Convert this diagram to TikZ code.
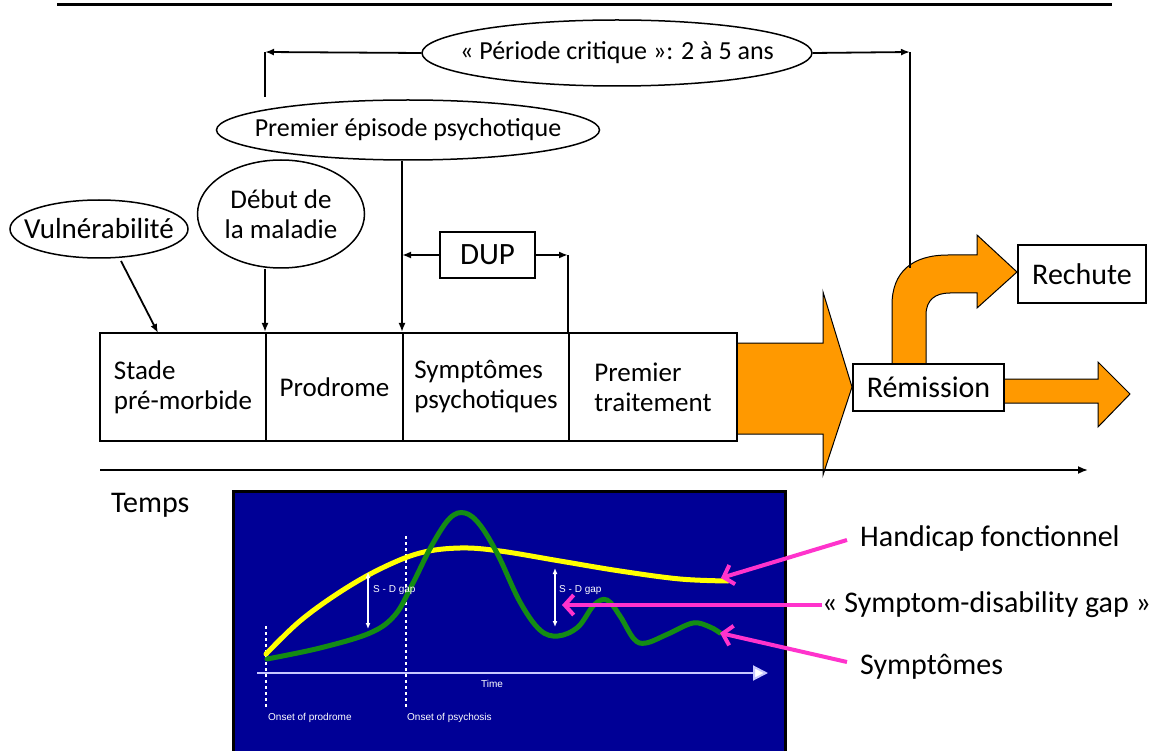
\documentclass[tikz,border=0pt]{standalone}
\usepackage{fontspec}
\setmainfont{Carlito}
\newfontfamily\arialf{Liberation Sans}
\usetikzlibrary{shapes.geometric,arrows.meta}
\definecolor{orangeC}{RGB}{255,153,0}
\definecolor{panelC}{RGB}{0,0,150}
\definecolor{pinkC}{RGB}{255,51,204}
\definecolor{greenC}{RGB}{20,140,20}
\definecolor{yellowC}{RGB}{255,255,0}
\definecolor{axisC}{RGB}{200,200,255}
\newcommand\fsA{\fontsize{26}{30}\selectfont}
\newcommand\fsB{\fontsize{27}{30}\selectfont}
\newcommand\fsC{\fontsize{30}{34}\selectfont}
\begin{document}
\begin{tikzpicture}[x=1pt,y=-1pt,
  ell/.style={draw, ellipse, line width=1.5pt, inner sep=0pt},
  etext/.style={font=\fsA, align=center, inner sep=0pt},
  box/.style={draw, line width=2pt, fill=white, inner sep=0pt, font=\fsB, align=left},
  conn/.style={line width=1.8pt, -{Latex[length=9pt,width=7pt]}},
  plain/.style={line width=1.8pt},
  oarrow/.style={fill=orangeC, draw=black, line width=1pt},
  parrow/.style={draw=pinkC, line width=4pt, -{Straight Barb[length=9pt,width=20pt]}},
  lbl/.style={font=\fsC, anchor=west, inner sep=0pt},
  small/.style={font=\arialf\fontsize{10}{12}\selectfont, text=white, inner sep=0pt},
  sd/.style={draw=white, line width=1.2pt, {Latex[length=6pt,width=5pt]}-{Latex[length=6pt,width=5pt]}}
]
\useasboundingbox (0,0) rectangle (1154,751);
% top rule
\coordinate (r0) at (57,5); \coordinate (r1) at (1112,5);
\draw[line width=3pt] (r0) -- (r1);

% orange arrows
\draw[oarrow] (737,343) -- (823,343) -- (823,292) -- (852,387) -- (823,475) -- (823,434) -- (737,434) -- cycle;
\draw[oarrow] (1004,379) -- (1098,379) -- (1098,362) -- (1130,394) -- (1098,427) -- (1098,403) -- (1004,403) -- cycle;
\draw[oarrow] (892,365) -- (892,305) .. controls (892,272) and (912,255) .. (948,255) -- (977,255) -- (977,235) -- (1017,272) -- (977,308) -- (977,293) -- (950,293) .. controls (935,293) and (926,300) .. (926,315) -- (926,365) -- cycle;

% boxes row
\node[box, minimum width=166pt, minimum height=108pt] (b1) at (183,387) {Stade\\pré-morbide};
\node[box, minimum width=137pt, minimum height=108pt] (b2) at (334.5,387) {Prodrome};
\node[box, minimum width=166pt, minimum height=108pt] (b3) at (486,387) {Symptômes\\psychotiques};
\node[box, minimum width=168pt, minimum height=108pt] (b4) at (653,387) {Premier\\traitement};

\node[box, font=\fsC, minimum width=151pt, minimum height=47pt, align=center] (rem) at (928.5,387) {Rémission};
\node[box, font=\fsC, minimum width=128pt, minimum height=58pt, align=center] (rech) at (1082,274) {Rechute};

% ellipses
\node[ell, minimum width=390pt, minimum height=66pt] (pc) at (617,53) {};
\node[etext] (pct) at (pc) {« Période critique »: 2 à 5 ans};
\node[ell, minimum width=383pt, minimum height=60pt] (pep) at (408,130) {};
\node[etext] (pept) at (pep) {Premier épisode psychotique};
\node[ell, minimum width=178pt, minimum height=58pt] (vul) at (99,229) {};
\node[etext, font=\fontsize{29}{32}\selectfont] (vult) at (vul) {Vulnérabilité};
\node[ell, minimum width=167pt, minimum height=108pt] (deb) at (281,214) {};
\node[etext, font=\fsB] (debt) at (deb) {Début de\\la maladie};
\node[box, font=\fontsize{31}{34}\selectfont, minimum width=95pt, minimum height=46pt, align=center] (dup) at (487.5,255) {DUP};

% connectors
\coordinate (cl) at (265,52); \coordinate (clb) at (265,97);
\coordinate (cr) at (910,52); \coordinate (crb) at (910,268);
\draw[conn] (pc.west) -- (cl);
\draw[plain] (cl) -- (clb);
\draw[conn] (pc.east) -- (cr);
\draw[plain] (cr) -- (crb);

\coordinate (v1) at (158,333);
\coordinate (v0) at (121,261);
\draw[conn] (v0) -- (v1);
\draw[conn] (b2.north west |- deb.south) -- (b2.north west);
\draw[conn] (b3.north west |- pep.south) -- (b3.north west);
\draw[conn] (dup.west) -- (dup.west -| b3.north west);
\draw[conn] (dup.east) -- (dup.east -| b4.north west);
\draw[plain] (dup.east -| b4.north west) -- (b4.north west);

% time axis
\coordinate (t0) at (100,470); \coordinate (t1) at (1088,470);
\draw[line width=1.8pt, -{Latex[length=10pt,width=8pt]}] (t0) -- (t1);
\node[lbl] (temps) at (111,505) {Temps};

% panel
\fill[panelC] (233,491) rectangle (785,753);
\draw[line width=3pt] (233,491) rectangle (785,753);
\coordinate (a0) at (257,673); \coordinate (a1) at (768,673);
\draw[axisC, line width=2pt, -{Triangle[length=15pt,width=15pt,fill=white]}] (a0) -- (a1);
\draw[white, line width=1.3pt, dashed] (266,626) -- (266,708);
\draw[white, line width=1.3pt, dashed] (406,536) -- (406,708);
\node[small, anchor=center] (time) at (492,684) {Time};
\node[small, anchor=west] (op) at (268,718) {Onset of prodrome};
\node[small, anchor=west] (os) at (407,718) {Onset of psychosis};

\draw[yellowC, line width=5pt, line cap=round] plot[smooth, tension=0.6] coordinates {(266,654) (300,621) (340,592) (380,569) (420,553) (460,548) (500,551) (560,561) (620,571) (680,579) (728,581)};
\draw[greenC, line width=5pt, line cap=round] plot[smooth, tension=0.6] coordinates {(267,659) (320,648) (370,633) (395,615) (412,585) (432,545) (450,518) (465,513) (480,525) (498,555) (520,602) (540,630) (558,636) (578,627) (594,605) (607,600) (620,616) (634,639) (646,643) (668,634) (693,623) (710,627) (720,633)};

\draw[sd] (368,572) -- (368,629);
\draw[sd] (555,568) -- (555,627);
\node[small, anchor=west] (sd1) at (373,590) {S - D gap};
\node[small, anchor=west] (sd2) at (559,590) {S - D gap};

% labels and pink arrows
\node[lbl] (hf) at (860,538) {Handicap fonctionnel};
\node[lbl] (sdg) at (822,605) {« Symptom-disability gap »};
\node[lbl] (sy) at (860,667) {Symptômes};
\coordinate (p1) at (721,578);
\coordinate (p2) at (562,605);
\coordinate (p3) at (720,633);
\path (hf.west) ++(-13,2) coordinate (h0);
\path (sy.west) ++(-13,-5) coordinate (s0);
\draw[parrow] (h0) -- (p1);
\draw[parrow] (sdg.west) -- (p2);
\draw[parrow] (s0) -- (p3);
\end{tikzpicture}
\end{document}
